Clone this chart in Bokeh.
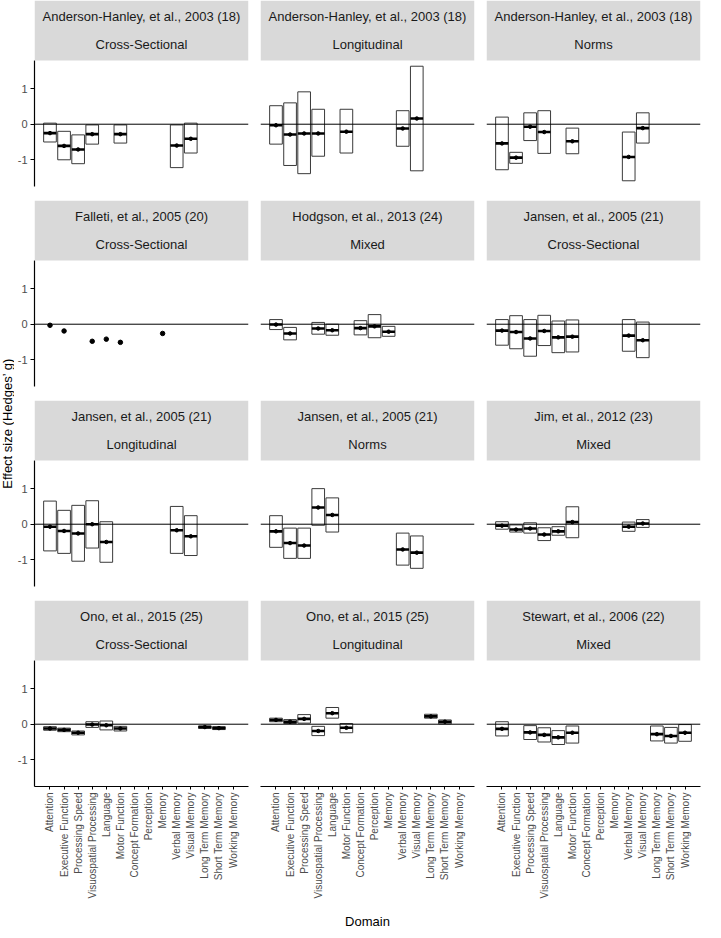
import math
from bokeh.plotting import figure
from bokeh.layouts import row, column
from bokeh.models import (Range1d, FactorRange, Span, FixedTicker, ColumnDataSource,
                          BoxAnnotation, Label)
from bokeh.transform import dodge
from bokeh.embed import file_html
from bokeh.resources import INLINE

# ---------------- data ----------------
domains = ["Attention", "Executive Function", "Processing Speed", "Visuospatial Processing",
           "Language", "Motor Function", "Concept Formation", "Perception", "Memory",
           "Verbal Memory", "Visual Memory", "Long Term Memory", "Short Term Memory",
           "Working Memory"]

# Anderson-Hanley 2003, Cross-Sectional
ah_cs_dom = ["Attention", "Executive Function", "Processing Speed", "Visuospatial Processing",
             "Motor Function", "Verbal Memory", "Visual Memory"]
ah_cs_g = [-0.25, -0.61, -0.71, -0.28, -0.28, -0.60, -0.41]
ah_cs_lo = [-0.50, -1.00, -1.11, -0.56, -0.53, -1.22, -0.81]
ah_cs_hi = [0.03, -0.20, -0.30, -0.02, -0.02, -0.02, 0.03]

# Anderson-Hanley 2003, Longitudinal
ah_lo_dom = ["Attention", "Executive Function", "Processing Speed", "Visuospatial Processing",
             "Motor Function", "Verbal Memory", "Visual Memory"]
ah_lo_g = [-0.03, -0.29, -0.26, -0.26, -0.21, -0.12, 0.16]
ah_lo_lo = [-0.56, -1.16, -1.39, -0.90, -0.81, -0.62, -1.31]
ah_lo_hi = [0.52, 0.60, 0.91, 0.42, 0.42, 0.38, 1.63]

# Anderson-Hanley 2003, Norms
ah_no_dom = ["Attention", "Executive Function", "Processing Speed", "Visuospatial Processing",
             "Motor Function", "Verbal Memory", "Visual Memory"]
ah_no_g = [-0.54, -0.94, -0.07, -0.22, -0.48, -0.92, -0.11]
ah_no_lo = [-1.28, -1.10, -0.46, -0.82, -0.83, -1.59, -0.53]
ah_no_hi = [0.20, -0.79, 0.32, 0.38, -0.11, -0.22, 0.32]

# Falleti 2005, Cross-Sectional (point estimates only)
fa_cs_dom = ["Attention", "Executive Function", "Visuospatial Processing", "Language",
             "Motor Function", "Memory"]
fa_cs_g = [-0.03, -0.19, -0.48, -0.42, -0.51, -0.26]

# Hodgson 2013, Mixed
ho_mx_dom = ["Attention", "Executive Function", "Visuospatial Processing", "Language",
             "Concept Formation", "Perception", "Memory"]
ho_mx_g = [-0.01, -0.26, -0.12, -0.17, -0.11, -0.06, -0.21]
ho_mx_lo = [-0.15, -0.44, -0.28, -0.31, -0.30, -0.38, -0.34]
ho_mx_hi = [0.13, -0.09, 0.05, 0.00, 0.10, 0.27, -0.06]

# Jansen 2005, Cross-Sectional
ja_cs_dom = ["Attention", "Executive Function", "Processing Speed", "Visuospatial Processing",
             "Language", "Motor Function", "Verbal Memory", "Visual Memory"]
ja_cs_g = [-0.18, -0.22, -0.40, -0.19, -0.37, -0.35, -0.32, -0.45]
ja_cs_lo = [-0.59, -0.69, -0.90, -0.60, -0.80, -0.78, -0.76, -0.94]
ja_cs_hi = [0.13, 0.24, 0.13, 0.25, 0.09, 0.12, 0.13, 0.06]

# Jansen 2005, Longitudinal
ja_lo_dom = ["Attention", "Executive Function", "Processing Speed", "Visuospatial Processing",
             "Language", "Verbal Memory", "Visual Memory"]
ja_lo_g = [-0.07, -0.19, -0.26, 0.00, -0.50, -0.17, -0.34]
ja_lo_lo = [-0.75, -0.82, -1.04, -0.67, -1.07, -0.82, -0.88]
ja_lo_hi = [0.65, 0.39, 0.53, 0.66, 0.07, 0.50, 0.24]

# Jansen 2005, Norms
ja_no_dom = ["Attention", "Executive Function", "Processing Speed", "Visuospatial Processing",
             "Language", "Verbal Memory", "Visual Memory"]
ja_no_g = [-0.20, -0.53, -0.60, 0.47, 0.26, -0.71, -0.80]
ja_no_lo = [-0.65, -0.96, -0.96, -0.03, -0.22, -1.15, -1.24]
ja_no_hi = [0.24, -0.11, -0.11, 1.00, 0.74, -0.25, -0.33]

# Jim 2012, Mixed
ji_mx_dom = ["Attention", "Executive Function", "Processing Speed", "Visuospatial Processing",
             "Language", "Motor Function", "Verbal Memory", "Visual Memory"]
ji_mx_g = [-0.04, -0.15, -0.12, -0.29, -0.20, 0.06, -0.07, 0.02]
ji_mx_lo = [-0.14, -0.22, -0.25, -0.46, -0.31, -0.38, -0.20, -0.09]
ji_mx_hi = [0.07, -0.02, 0.04, -0.10, -0.07, 0.49, 0.06, 0.13]

# Ono 2015, Cross-Sectional
on_cs_dom = ["Attention", "Executive Function", "Processing Speed", "Visuospatial Processing",
             "Language", "Motor Function", "Long Term Memory", "Short Term Memory"]
on_cs_g = [-0.12, -0.16, -0.24, -0.01, -0.03, -0.12, -0.08, -0.11]
on_cs_lo = [-0.17, -0.21, -0.30, -0.09, -0.16, -0.19, -0.12, -0.15]
on_cs_hi = [-0.07, -0.11, -0.19, 0.07, 0.09, -0.06, -0.05, -0.07]

# Ono 2015, Longitudinal
on_lo_dom = ["Attention", "Executive Function", "Processing Speed", "Visuospatial Processing",
             "Language", "Motor Function", "Long Term Memory", "Short Term Memory"]
on_lo_g = [0.12, 0.07, 0.15, -0.19, 0.31, -0.10, 0.22, 0.07]
on_lo_lo = [0.07, 0.02, 0.03, -0.32, 0.17, -0.24, 0.17, 0.01]
on_lo_hi = [0.17, 0.13, 0.27, -0.06, 0.47, 0.02, 0.28, 0.12]

# Stewart 2006, Mixed
st_mx_dom = ["Attention", "Processing Speed", "Visuospatial Processing", "Language",
             "Motor Function", "Long Term Memory", "Short Term Memory", "Working Memory"]
st_mx_g = [-0.13, -0.23, -0.30, -0.37, -0.24, -0.28, -0.33, -0.24]
st_mx_lo = [-0.33, -0.43, -0.50, -0.57, -0.53, -0.47, -0.53, -0.48]
st_mx_hi = [0.07, -0.04, -0.10, -0.18, -0.05, -0.05, -0.09, -0.01]

panels = [
    ("Anderson-Hanley, et al., 2003 (18)", "Cross-Sectional", ah_cs_dom, ah_cs_g, ah_cs_lo, ah_cs_hi),
    ("Anderson-Hanley, et al., 2003 (18)", "Longitudinal", ah_lo_dom, ah_lo_g, ah_lo_lo, ah_lo_hi),
    ("Anderson-Hanley, et al., 2003 (18)", "Norms", ah_no_dom, ah_no_g, ah_no_lo, ah_no_hi),
    ("Falleti, et al., 2005 (20)", "Cross-Sectional", fa_cs_dom, fa_cs_g, None, None),
    ("Hodgson, et al., 2013 (24)", "Mixed", ho_mx_dom, ho_mx_g, ho_mx_lo, ho_mx_hi),
    ("Jansen, et al., 2005 (21)", "Cross-Sectional", ja_cs_dom, ja_cs_g, ja_cs_lo, ja_cs_hi),
    ("Jansen, et al., 2005 (21)", "Longitudinal", ja_lo_dom, ja_lo_g, ja_lo_lo, ja_lo_hi),
    ("Jansen, et al., 2005 (21)", "Norms", ja_no_dom, ja_no_g, ja_no_lo, ja_no_hi),
    ("Jim, et al., 2012 (23)", "Mixed", ji_mx_dom, ji_mx_g, ji_mx_lo, ji_mx_hi),
    ("Ono, et al., 2015 (25)", "Cross-Sectional", on_cs_dom, on_cs_g, on_cs_lo, on_cs_hi),
    ("Ono, et al., 2015 (25)", "Longitudinal", on_lo_dom, on_lo_g, on_lo_lo, on_lo_hi),
    ("Stewart, et al., 2006 (22)", "Mixed", st_mx_dom, st_mx_g, st_mx_lo, st_mx_hi),
]

# ---------------- layout constants ----------------
FONT = "Liberation Sans"
FRAME_W = 214
PLOT_H = 126
STRIP_H = 60
GAP_V = 14

all_vals = []
for _, _, _, g, lo, hi in panels:
    all_vals += list(g)
    if lo is not None:
        all_vals += list(lo) + list(hi)
vmin, vmax = min(all_vals), max(all_vals)
pad = (vmax - vmin) * 0.05
ylo, yhi = vmin - pad, vmax + pad
upp = (yhi - ylo) / PLOT_H          # data units per pixel
yend = yhi + STRIP_H * upp


def make_panel(idx, study, design, dom, g, lo, hi):
    r, c = divmod(idx, 3)
    bottom_row = (r == 3)
    p = figure(
        frame_width=FRAME_W, frame_height=PLOT_H + STRIP_H,
        x_range=FactorRange(factors=domains, range_padding=1.2 / len(domains)),
        y_range=Range1d(ylo, yend),
        output_backend="svg", toolbar_location=None,
        x_axis_location="below" if bottom_row else None,
        y_axis_location="left" if c == 0 else None,
        min_border_left=18 if c == 0 else 6,
        min_border_right=6 if c < 2 else 2,
        min_border_top=0,
        min_border_bottom=128 if bottom_row else GAP_V,
    )
    p.grid.visible = False
    p.outline_line_color = None
    p.background_fill_color = "white"
    p.border_fill_color = "white"

    # strip
    p.add_layout(BoxAnnotation(bottom=yhi, fill_color="#D9D9D9", fill_alpha=1.0,
                               line_color=None))
    xc = len(domains) / 2.0
    p.add_layout(Label(x=xc, y=yend - 16 * upp, text=study, text_align="center",
                       text_baseline="middle", text_font=FONT, text_font_size="13px",
                       text_color="#1A1A1A"))
    p.add_layout(Label(x=xc, y=yend - 44 * upp, text=design, text_align="center",
                       text_baseline="middle", text_font=FONT, text_font_size="13px",
                       text_color="#1A1A1A"))

    # zero line
    p.add_layout(Span(location=0, dimension="width", line_color="black", line_width=1))

    if lo is not None:
        src = ColumnDataSource(dict(d=dom, g=g, lo=lo, hi=hi))
        p.vbar(x="d", top="hi", bottom="lo", width=0.9, source=src,
               fill_color=None, line_color="#3a3a3a", line_width=1)
        p.segment(x0=dodge("d", -0.45, range=p.x_range), x1=dodge("d", 0.45, range=p.x_range),
                  y0="g", y1="g", source=src, line_color="black", line_width=2.6)
        p.scatter(x="d", y="g", source=src, size=3.5, color="black")
    else:
        src = ColumnDataSource(dict(d=dom, g=g))
        p.scatter(x="d", y="g", source=src, size=4.5, color="black")

    if c == 0:
        ax = p.yaxis[0]
        ax.ticker = FixedTicker(ticks=[-1, 0, 1])
        ax.major_label_overrides = {-1: "-1", 0: "0", 1: "1"}
        ax.bounds = (ylo, yhi)
        ax.axis_line_color = "black"
        ax.axis_line_width = 1.2
        ax.major_tick_line_color = "black"
        ax.major_tick_out = 4
        ax.major_tick_in = 0
        ax.minor_tick_line_color = None
        ax.major_label_text_color = "#4D4D4D"
        ax.major_label_text_font = FONT
        ax.major_label_text_font_size = "11px"
        ax.major_label_standoff = 3
    if bottom_row:
        ax = p.xaxis[0]
        ax.axis_line_color = "black"
        ax.axis_line_width = 1.2
        ax.major_tick_line_color = "black"
        ax.major_tick_out = 3
        ax.major_tick_in = 0
        ax.major_label_orientation = math.pi / 2
        ax.major_label_text_color = "#4D4D4D"
        ax.major_label_text_font = FONT
        ax.major_label_text_font_size = "10px"
        ax.major_label_standoff = 3
        if c == 1:
            ax.axis_label = "Domain"
            ax.axis_label_text_font = FONT
            ax.axis_label_text_font_size = "13px"
            ax.axis_label_text_font_style = "normal"
            ax.axis_label_text_color = "black"
            ax.axis_label_standoff = 13
    return p


figs = [make_panel(i, *pan) for i, pan in enumerate(panels)]
rows = [row(figs[3 * k:3 * k + 3], spacing=0) for k in range(4)]
grid = column(rows, spacing=0)

# y-axis title figure
TOTAL_H = 3 * (PLOT_H + STRIP_H + GAP_V) + PLOT_H + STRIP_H
yt = figure(width=14, height=TOTAL_H, x_range=Range1d(0, 14), y_range=Range1d(0, TOTAL_H),
            x_axis_location=None, y_axis_location=None, min_border=0,
            output_backend="svg", toolbar_location=None)
yt.grid.visible = False
yt.outline_line_color = None
yt.add_layout(Label(x=7, y=TOTAL_H - (STRIP_H + TOTAL_H) / 2, text="Effect size (Hedges\u2019 g)",
                    angle=math.pi / 2, text_align="center", text_baseline="middle",
                    text_font=FONT, text_font_size="13px", text_color="black"))

layout = row([yt, grid], spacing=0)

with open("out.html", "w") as f:
    f.write(file_html(layout, INLINE))
